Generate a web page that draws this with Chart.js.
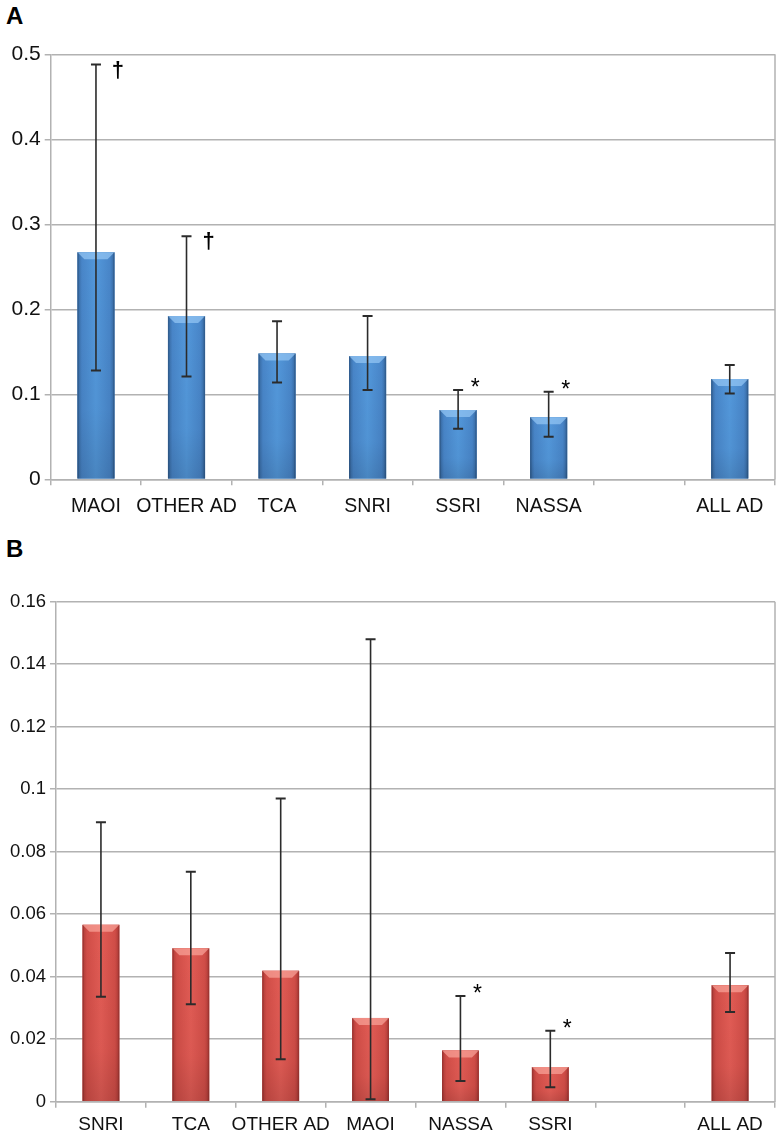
<!DOCTYPE html>
<html>
<head>
<meta charset="utf-8">
<script src="https://cdn.jsdelivr.net/npm/chart.js@4.4.1/dist/chart.umd.min.js"></script>
<style>
  html, body { margin: 0; padding: 0; background: #ffffff; }
  body { width: 780px; height: 1136px; position: relative; overflow: hidden; }
  canvas { position: absolute; left: 0; }
  #cA { top: 0; }
  #cB { top: 530px; }
  .panel { position: absolute; left: 6px; font: bold 24px "Liberation Sans", Arial, sans-serif; color: #000; }
</style>
</head>
<body>
<div class="panel" style="top:2px">A</div>
<div class="panel" style="top:535px">B</div>
<canvas id="cA" width="780" height="540"></canvas>
<canvas id="cB" width="780" height="606"></canvas>
<script>
// ---- Panel A data ----
const categoriesA = ['MAOI', 'OTHER AD', 'TCA', 'SNRI', 'SSRI', 'NASSA', '', 'ALL AD'];
const valuesA     = [0.267, 0.192, 0.148, 0.145, 0.0815, 0.073, null, 0.118];
const errLowA     = [0.128, 0.121, 0.114, 0.105, 0.0595, 0.050, null, 0.101];
const errHighA    = [0.488, 0.286, 0.186, 0.192, 0.105, 0.103, null, 0.1345];
const marksA      = ['\u2020', '\u2020', '', '', '*', '*', '', ''];
const yTicksA     = [0, 0.1, 0.2, 0.3, 0.4, 0.5];

// ---- Panel B data ----
const categoriesB = ['SNRI', 'TCA', 'OTHER AD', 'MAOI', 'NASSA', 'SSRI', '', 'ALL AD'];
const valuesB     = [0.0566, 0.0491, 0.0419, 0.0268, 0.0164, 0.0111, null, 0.0373];
const errLowB     = [0.0336, 0.0312, 0.0136, 0.0008, 0.0066, 0.0046, null, 0.0287];
const errHighB    = [0.0894, 0.0736, 0.0970, 0.1480, 0.0338, 0.0227, null, 0.0476];
const marksB      = ['', '', '', '', '*', '*', '', ''];
const yTicksB     = [0, 0.02, 0.04, 0.06, 0.08, 0.1, 0.12, 0.14, 0.16];

const FONT = '"Liberation Sans", Arial, sans-serif';
const GRID = '#b2b2b2';

function makeChart(canvasId, cats, vals, lo, hi, marks, yTicks, opt) {
  const palette = opt.palette;
  const decor = {
    id: 'decor',
    afterDatasetsDraw(chart) {
      const ctx = chart.ctx;
      const meta = chart.getDatasetMeta(0);
      const ys = chart.scales.y;
      const area = chart.chartArea;
      // bevel / gradient overlay on each bar
      meta.data.forEach((bar, i) => {
        if (vals[i] == null) return;
        const w = bar.width, l = bar.x - w / 2, r = bar.x + w / 2;
        const top = bar.y, bot = bar.base;
        ctx.save();
        const g = ctx.createLinearGradient(l, 0, r, 0);
        g.addColorStop(0, palette.edge);
        g.addColorStop(0.12, palette.mid);
        g.addColorStop(0.5, palette.light);
        g.addColorStop(0.88, palette.mid);
        g.addColorStop(1, palette.edge);
        ctx.fillStyle = g;
        ctx.fillRect(l, top, w, bot - top);
        const gv = ctx.createLinearGradient(0, top, 0, bot);
        gv.addColorStop(0, 'rgba(0,0,0,0)');
        gv.addColorStop(0.7, 'rgba(0,0,0,0.03)');
        gv.addColorStop(1, 'rgba(0,0,0,0.12)');
        ctx.fillStyle = gv;
        ctx.fillRect(l, top, w, bot - top);
        const b = Math.min(7, (bot - top) / 2);
        ctx.beginPath();
        ctx.moveTo(l, top); ctx.lineTo(r, top); ctx.lineTo(r - b, top + b); ctx.lineTo(l + b, top + b); ctx.closePath();
        ctx.fillStyle = palette.bevel;
        ctx.fill();
        ctx.fillStyle = 'rgba(0,0,0,0.10)';
        ctx.fillRect(l, top, 1.5, bot - top);
        ctx.fillRect(r - 1.5, top, 1.5, bot - top);
        ctx.restore();
      });
      // error bars
      ctx.save();
      ctx.strokeStyle = '#2b2b2b';
      meta.data.forEach((bar, i) => {
        if (hi[i] == null) return;
        const x = bar.x;
        const yh = ys.getPixelForValue(hi[i]);
        const yl = ys.getPixelForValue(lo[i]);
        ctx.lineWidth = 1.6;
        ctx.beginPath(); ctx.moveTo(x, yh); ctx.lineTo(x, yl); ctx.stroke();
        ctx.lineWidth = 2;
        ctx.beginPath();
        ctx.moveTo(x - 5, yh); ctx.lineTo(x + 5, yh);
        ctx.moveTo(x - 5, yl); ctx.lineTo(x + 5, yl);
        ctx.stroke();
        // significance marks
        const m = marks[i];
        if (m) {
          ctx.fillStyle = '#000';
          ctx.textAlign = 'center';
          ctx.textBaseline = 'middle';
          if (m === '*') {
            ctx.font = '23px ' + FONT;
            ctx.fillText(m, x + 17, yh - 1);
          } else {
            ctx.font = 'bold 22px ' + FONT;
            ctx.fillText(m, x + 22, yh + 6);
          }
        }
      });
      ctx.restore();
      // right border of plot area
      ctx.save();
      ctx.strokeStyle = GRID;
      ctx.lineWidth = 1.5;
      ctx.beginPath();
      ctx.moveTo(area.right, area.top);
      ctx.lineTo(area.right, area.bottom);
      ctx.stroke();
      ctx.restore();
    }
  };

  return new Chart(document.getElementById(canvasId), {
    type: 'bar',
    data: {
      labels: cats,
      datasets: [{
        data: vals,
        backgroundColor: palette.mid,
        borderWidth: 0,
        barPercentage: 0.41,
        categoryPercentage: 1
      }]
    },
    options: {
      responsive: false,
      animation: false,
      devicePixelRatio: 1,
      layout: { padding: { left: 0, right: 5, top: opt.padTop, bottom: opt.padBottom } },
      plugins: { legend: { display: false }, tooltip: { enabled: false } },
      scales: {
        x: {
          grid: { display: true, drawOnChartArea: false, offset: true, tickLength: 6, color: GRID, lineWidth: 1.5 },
          border: { color: GRID, width: 1.5 },
          ticks: { font: { family: FONT, size: opt.xFont }, color: '#111', padding: opt.xPad, maxRotation: 0, autoSkip: false },
          afterFit: s => { s.height = opt.xHeight; }
        },
        y: {
          min: yTicks[0],
          max: yTicks[yTicks.length - 1],
          afterBuildTicks: s => { s.ticks = yTicks.map(v => ({ value: v })); },
          grid: { color: GRID, lineWidth: 1.5, tickLength: 6 },
          border: { color: GRID, width: 1.5 },
          ticks: {
            font: { family: FONT, size: opt.yFont }, color: '#111', padding: 4,
            callback: v => String(+Number(v).toFixed(4))
          },
          afterFit: s => { s.width = opt.yWidth; }
        }
      }
    },
    plugins: [decor]
  });
}

const blue = { edge: '#35669d', mid: '#4885c8', light: '#5398db', bevel: 'rgba(150,200,245,0.7)' };
const red  = { edge: '#ad3a36', mid: '#d04d47', light: '#e25c55', bevel: 'rgba(250,165,155,0.7)' };

makeChart('cA', categoriesA, valuesA, errLowA, errHighA, marksA, yTicksA,
  { palette: blue, padTop: 54.3, padBottom: 20.7, xHeight: 40, xPad: 10, yWidth: 50.7, xFont: 19.5, yFont: 21 });
makeChart('cB', categoriesB, valuesB, errLowB, errHighB, marksB, yTicksB,
  { palette: red, padTop: 71.7, padBottom: 4.3, xHeight: 30, xPad: 6, yWidth: 56, xFont: 19, yFont: 18.5 });
</script>
</body>
</html>
